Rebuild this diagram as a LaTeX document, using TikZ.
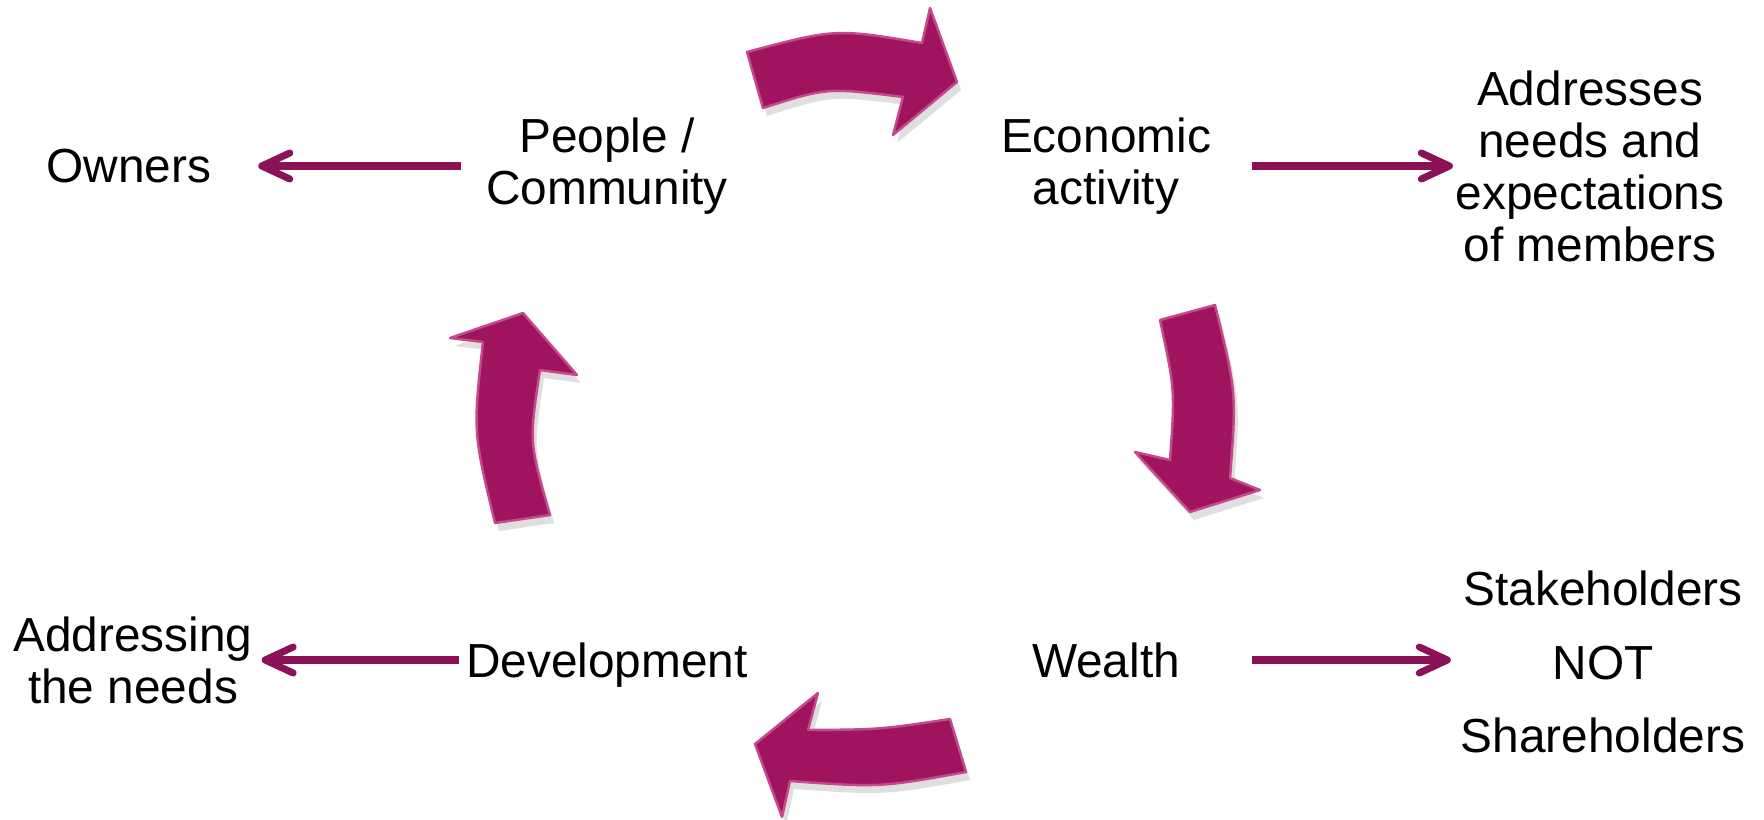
\documentclass[tikz,border=0pt]{standalone}
\usepackage{fontspec}
\setmainfont{Liberation Sans}
\usetikzlibrary{arrows.meta,shadows}

\definecolor{plum}{RGB}{160,20,95}
\definecolor{plumrim}{RGB}{195,75,140}
\definecolor{plumline}{RGB}{140,18,88}

\tikzset{
  bigarrow/.style={fill=plum,draw=plumrim,line width=0.7pt,line join=round,
    drop shadow={opacity=0.25,shadow xshift=0.4mm,shadow yshift=-0.8mm}},
  thinarrow/.style={draw=plumline,line width=2pt,
    -{Straight Barb[length=2.8mm,width=2.6mm,round]}},
  txt/.style={align=center,font=\fontsize{13.6}{14.8}\selectfont}
}

\begin{document}
\begin{tikzpicture}
\useasboundingbox (0,0) rectangle (17.64,8.19);

%Top row
\node[txt] (owners) at (1.29,6.53){Owners};
\node[txt] (people) at (6.07,6.53){People /\\Community};
\node[txt] (econ) at (11.06,6.53){Economic\\activity};
\node[txt] (addresses) at (15.90,6.53){Addresses\\needs and\\expectations\\of members};

%Bottom row
\node[txt] (addressing) at (1.33,1.59){Addressing\\the needs};
\node[txt,text depth=0pt] (dev) at (6.07,1.59){Development};
\node[txt] (wealth) at (11.06,1.59){Wealth};
\node[txt] (stake) at (16.03,1.57){Stakeholders\\[6.2pt]NOT\\[6.2pt]Shareholders};

%Side arrows
\draw[thinarrow,shorten <=1.25mm,shorten >=3.45mm] (people.west) -- (owners.east);
\draw[thinarrow,shorten <=2.85mm,shorten >=-0.95mm] (econ.east) -- (addresses.west);
\draw[thinarrow,shorten <=-0.55mm,shorten >=-0.33mm] (dev.west) -- (addressing.east);
\draw[thinarrow,shorten <=5.95mm,shorten >=-0.24mm] (wealth.east) -- (stake.west |- wealth.east);

%%%%%%%%%%%%%%%%%Cycle%%%%%%%%%%%%%%
%Top
\draw[bigarrow] (7.47,7.67) .. controls (8.355,7.905) .. (9.22,7.76) -- (9.30,8.11)
  -- (9.57,7.37) -- (8.93,6.84) -- (9.03,7.22) .. controls (8.27,7.315) .. (7.63,7.11) -- cycle;

%Right
\draw[bigarrow] (11.60,4.99) -- (12.15,5.14) .. controls (12.365,4.265) .. (12.30,3.41)
  -- (12.60,3.29) -- (11.90,3.07) -- (11.35,3.67) -- (11.70,3.59)
  .. controls (11.75,4.29) .. (11.60,4.99) -- cycle;

%Bottom
\draw[bigarrow] (9.50,1.00) -- (9.66,0.47) .. controls (8.80,0.315) .. (7.90,0.38)
  -- (7.82,0.02) -- (7.55,0.75) -- (8.18,1.26) -- (8.08,0.89)
  .. controls (8.80,0.895) .. (9.50,1.00) -- cycle;

%Left
\draw[bigarrow] (4.95,2.96) -- (5.50,3.04) .. controls (5.29,3.77) .. (5.40,4.49)
  -- (5.77,4.44) -- (5.23,5.06) -- (4.50,4.81) -- (4.83,4.77)
  .. controls (4.73,3.87) .. (4.95,2.96) -- cycle;

\end{tikzpicture}
\end{document}
